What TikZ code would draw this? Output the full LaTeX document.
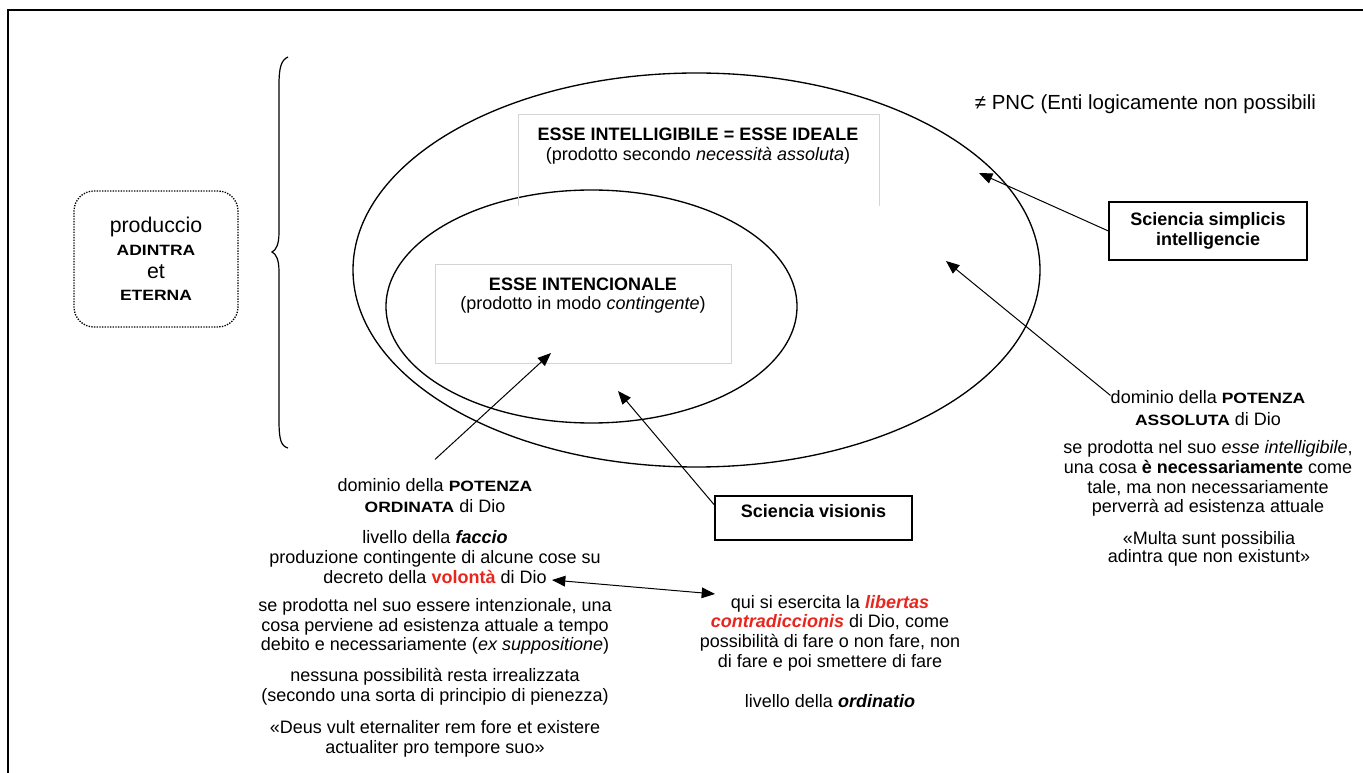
\documentclass[tikz,border=0pt]{standalone}
\usepackage{fontspec}
\setmainfont{Liberation Sans}
\newfontfamily\capsf{Liberation Sans}[FakeStretch=1.17]
\usetikzlibrary{arrows.meta}
\definecolor{redt}{RGB}{232,38,30}
\definecolor{boxgray}{RGB}{212,212,212}
\newcommand{\pcaps}[1]{{\capsf\bfseries\fontsize{11.2}{12}\selectfont #1}}
\newcommand{\rbi}[1]{\textcolor{redt}{\textbf{\textit{#1}}}}
\tikzset{
  body/.style={font=\fontsize{13.5}{14.8}\selectfont, align=center, inner sep=0pt},
  lbox/.style={draw=boxgray, line width=0.6pt, inner sep=0pt},
  bbox/.style={draw, line width=0.9pt, align=center, inner sep=0pt, font=\bfseries\fontsize{13.5}{15}\selectfont},
  arr/.style={-{Triangle[length=10pt,width=8pt]}, line width=0.75pt},
  darr/.style={{Triangle[length=10pt,width=8pt]}-{Triangle[length=10pt,width=8pt]}, line width=0.75pt},
  ell/.style={line width=1pt}
}
\begin{document}
\begin{tikzpicture}[x=0.75pt,y=-0.75pt]
\useasboundingbox (0,0) rectangle (1363,773);
% frame
\draw[line width=1.2pt] (8,773) -- (8,10) -- (1363,10);
% brace
\draw[line width=0.9pt] (288,57) .. controls (281,60) and (279,68) .. (279,85) -- (279,232)
  .. controls (279,245) and (276,250) .. (272,252)
  .. controls (276,254) and (279,259) .. (279,272) -- (279,420)
  .. controls (279,440) and (281,446) .. (288,448);
% produccio box
\node[draw, densely dotted, line width=1pt, rounded corners=15pt, minimum width=123pt, minimum height=102pt, align=center, inner sep=0pt, font=\fontsize{16}{17}\selectfont] (prod) at (156,259)
  {produccio\\ \pcaps{ADINTRA}\\ et\\ \pcaps{ETERNA}};
% ellipses
\draw[ell] (696.5,270) ellipse [x radius=343.5, y radius=197];
\draw[ell] (591.5,306.5) ellipse [x radius=205.5, y radius=116.5];
% light boxes
\draw[draw=boxgray, line width=0.6pt] (518,206) -- (518,114) -- (879,114) -- (879,206);
\node[body] (eit) at (698,146) {\textbf{ESSE INTELLIGIBILE = ESSE IDEALE}\\(prodotto secondo \textit{necessità assoluta})};
\node[lbox, minimum width=222pt, minimum height=74.25pt] (icbox) at (583,313.5) {};
\node[body] (ict) at (583,295.5) {\textbf{ESSE INTENCIONALE}\\(prodotto in modo \textit{contingente})};
% PNC
\node[inner sep=0pt, font=\fontsize{15.3}{17}\selectfont] (pnc) at (1145.5,104) {≠ PNC (Enti logicamente non possibili};
% black boxes
\node[bbox, minimum width=148.5pt, minimum height=43.5pt] (ssi) at (1208,231) {Sciencia simplicis\\intelligencie};
\node[bbox, minimum width=147.75pt, minimum height=33pt] (sv) at (813.5,518) {Sciencia visionis\\[-4pt]};
% right texts
\node[body, font=\fontsize{13.5}{16.5}\selectfont] (pass) at (1208,408) {dominio della \pcaps{POTENZA}\\\pcaps{ASSOLUTA} di Dio};
\node[body] (r2) at (1208,478.5) {se prodotta nel suo \textit{esse intelligibile},\\una cosa \textbf{è necessariamente} come\\tale, ma non necessariamente\\perverrà ad esistenza attuale};
\node[body, font=\fontsize{13.5}{13.8}\selectfont] (r3) at (1209,549) {«Multa sunt possibilia\\adintra que non existunt»};
% left bottom texts
\node[body, font=\fontsize{13.5}{15.8}\selectfont] (pord) at (435,495.5) {dominio della \pcaps{POTENZA}\\\pcaps{ORDINATA} di Dio};
\node[body] (p2) at (435,557) {livello della \textbf{\textit{faccio}}\\produzione contingente di alcune cose su\\decreto della \textcolor{redt}{\textbf{volontà}} di Dio};
\node[body] (p3) at (435,626.5) {se prodotta nel suo essere intenzionale, una\\cosa perviene ad esistenza attuale a tempo\\debito e necessariamente (\textit{ex suppositione})};
\node[body] (p4) at (435,687) {nessuna possibilità resta irrealizzata\\(secondo una sorta di principio di pienezza)};
\node[body] (p5) at (435,738.5) {«Deus vult eternaliter rem fore et existere\\actualiter pro tempore suo»};
% right bottom texts
\node[body] (q1) at (830,633) {qui si esercita la \rbi{libertas}\\\rbi{contradiccionis} di Dio, come\\possibilità di fare o non fare, non\\di fare e poi smettere di fare};
\node[body] (q2) at (830,701) {livello della \textbf{\textit{ordinatio}}};
% arrow targets
\coordinate (tS) at (979,173);
\coordinate (tA) at (946,261);
\coordinate (tV) at (618,391);
\coordinate (tO) at (551,353);
\coordinate (dL) at (552,580);
\coordinate (dR) at (715,594);
% arrows
\draw[arr] (ssi.west) -- (tS);
\draw[arr] ([yshift=-4pt]pass.north west) -- (tA);
\draw[arr] ([yshift=9.75pt]sv.west) -- (tV);
\draw[arr] ([yshift=14pt]pord.north) -- (tO);
\draw[darr] (dL) -- (dR);
\end{tikzpicture}
\end{document}
